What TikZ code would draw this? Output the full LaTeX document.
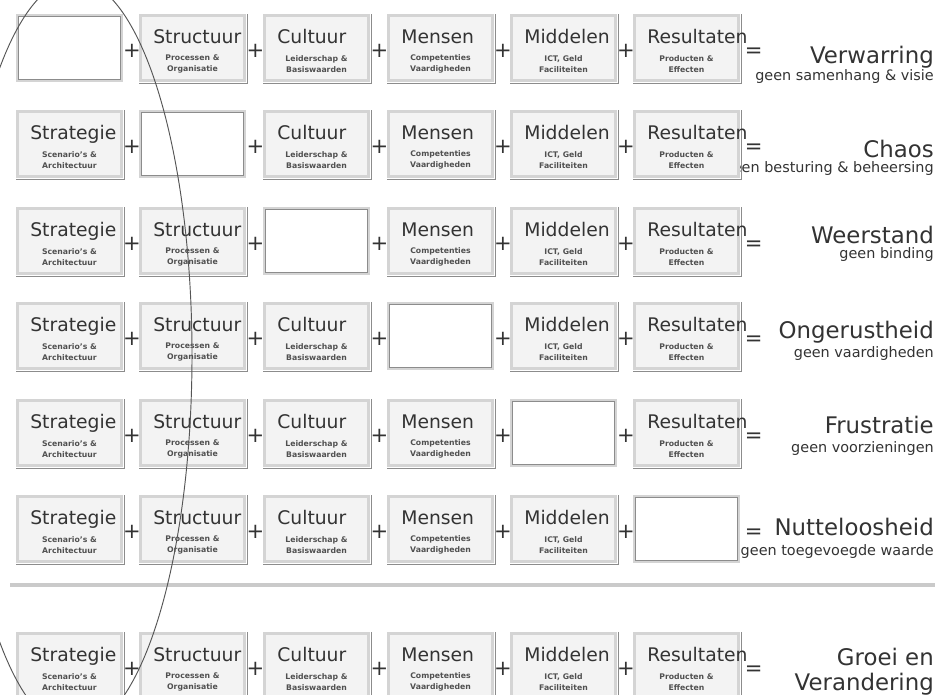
\documentclass[tikz,border=0pt]{standalone}
\usepackage{fontspec}
\setmainfont{DejaVu Sans}
\usepackage{tikz}
\usetikzlibrary{
  positioning,
  calc
}
\definecolor{ffText}{HTML}{333333}
\definecolor{ffSub}{HTML}{505050}
\definecolor{ffFill}{HTML}{F3F3F3}
\definecolor{ffEdge}{HTML}{D4D4D4}
\definecolor{ffShade}{HTML}{8C8C8C}
\definecolor{ffRule}{HTML}{CACACA}
\definecolor{ffOval}{HTML}{555555}

\tikzset{
  elembox/.style={draw=ffEdge, line width=2.4pt, fill=ffFill, minimum width=3.12cm, minimum height=1.95cm, inner sep=0pt},
  emptybox/.style={elembox, fill=white},
  elemtitle/.style={font=\fontsize{16}{18}\selectfont, text=ffText, anchor=base west, inner sep=0pt},
  elemsub/.style={font=\fontsize{6.6}{9.4}\selectfont\bfseries, text=ffSub, align=center, inner sep=0pt},
  opsign/.style={font=\fontsize{18}{20}\selectfont, text=ffText, inner sep=0pt},
  restitle/.style={font=\fontsize{19.5}{22}\selectfont, text=ffText, anchor=base east, inner sep=0pt},
  ressub/.style={font=\fontsize{12.3}{14}\selectfont, text=ffText, anchor=base east, inner sep=0pt}
}

\begin{document}
\begin{tikzpicture}[x=0.03cm, y=-0.03cm]
  \useasboundingbox[fill=white] (0,0) rectangle (938,695);
  % outcomes on the right
  \foreach \r/\ta/\sa/\tname/\sname in {
      1/63/80/Verwarring/geen samenhang \& visie,
      2/157/172/Chaos/geen besturing \& beheersing,
      3/243/258/Weerstand/geen binding,
      4/338/357/Ongerustheid/geen vaardigheden,
      5/433/452/Frustratie/geen voorzieningen,
      6/535/555/Nutteloosheid/geen toegevoegde waarde} {
    \node[restitle] (res-\r) at (934,\ta) {\tname};
    \node[ressub] (ressub-\r) at (934,\sa) {\sname};
  }
  \node[restitle] (res-7) at (934,665) {Groei en};
  \node[restitle] (ressub-7) at (934,690) {Verandering};
  % element boxes
  \foreach \c/\xc/\ttl/\sa/\sb in {
      1/69.5/Strategie/Scenario's \&/Architectuur,
      2/192.5/Structuur/Processen \&/Organisatie,
      3/316.5/Cultuur/Leiderschap \&/Basiswaarden,
      4/440.5/Mensen/Competenties/Vaardigheden,
      5/563.5/Middelen/ICT{,} Geld/Faciliteiten,
      6/686.5/Resultaten/Producten \&/Effecten} {
    \foreach \r/\yc in {1/48, 2/144, 3/241, 4/336, 5/433, 6/529, 7/666} {
      \ifnum\r=\c
        \node[emptybox] (box-\r-\c) at (\xc,\yc) {};
        \draw[ffShade, line width=0.6pt] ($(box-\r-\c.south west)+(2pt,2pt)$) rectangle ($(box-\r-\c.north east)+(-2pt,-2pt)$);
      \else
        \node[elembox] (box-\r-\c) at (\xc,\yc) {};
        \draw[ffShade, line width=0.7pt] ($(box-\r-\c.north east)+(1.2pt,0)$) -- ($(box-\r-\c.south east)+(1.2pt,-1.2pt)$) -- ($(box-\r-\c.south west)+(0,-1.2pt)$);
        \node[elemtitle] (ttl-\r-\c) at ($(box-\r-\c.west)+(14,-5)$) {\ttl};
        \node[elemsub] (sub-\r-\c) at ($(box-\r-\c.center)+(0,16)$) {\sa\\\sb};
      \fi
    }
  }
  % plus and equals signs
  \foreach \r in {1,...,7} {
    \foreach \c in {1,...,5} {
      \pgfmathtruncatemacro{\n}{\c+1}
      \node[opsign] (plus-\r-\c) at ($($(box-\r-\c.east)!0.5!(box-\r-\n.west)$)+(1,3)$) {+};
    }
    \node[opsign, right=4pt of box-\r-6, yshift=-4pt] (eq-\r) {=};
  }
  % divider
  \draw[ffRule, line width=4pt] (10,585) -- (935,585);
  % hand drawn oval
  \draw[ffOval, line width=0.8pt] (75,355) ellipse [x radius=3.51cm, y radius=11.25cm];
\end{tikzpicture}
\end{document}
